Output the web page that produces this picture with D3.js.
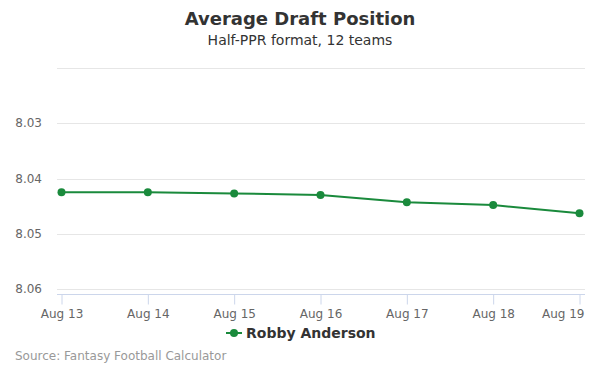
<!DOCTYPE html>
<html>
<head>
<meta charset="utf-8">
<script src="https://cdn.jsdelivr.net/npm/d3@7"></script>
<style>
  body { margin: 0; background: #fff; }
  svg { font-family: "DejaVu Sans", sans-serif; }
</style>
</head>
<body>
<svg id="chart" width="600" height="375"></svg>
<script>
var dates = ["2019-08-13", "2019-08-14", "2019-08-15", "2019-08-16", "2019-08-17", "2019-08-18", "2019-08-19"];
var adp = [8.0425, 8.0425, 8.0427, 8.0430, 8.0443, 8.0448, 8.0463];
var yTicks = [8.02, 8.03, 8.04, 8.05, 8.06];
var playerName = "Robby Anderson";

var parse = d3.timeParse("%Y-%m-%d");
var data = dates.map(function(d, i) { return { x: parse(d), y: adp[i] }; });

var svg = d3.select("#chart");
var plotLeft = 57, plotRight = 585, plotTop = 68, plotBottom = 294;
var green = "#1a8a3c";

var xScale = d3.scaleTime()
    .domain(d3.extent(data, function(d) { return d.x; }))
    .range([61.5, 579.5]);

var yScale = d3.scaleLinear()
    .domain([8.02, 8.0609])
    .range([plotTop, plotBottom]);

// grid
svg.append("g")
    .selectAll("line")
    .data(yTicks)
    .enter()
    .append("line")
    .attr("x1", plotLeft)
    .attr("x2", plotRight)
    .attr("y1", function(d) { return Math.round(yScale(d)) + 0.5; })
    .attr("y2", function(d) { return Math.round(yScale(d)) + 0.5; })
    .attr("stroke", "#e6e6e6");

// y labels (first one hidden like the original)
svg.append("g")
    .selectAll("text")
    .data(yTicks.slice(1))
    .enter()
    .append("text")
    .attr("x", 42)
    .attr("y", function(d) { return yScale(d) + 4; })
    .attr("text-anchor", "end")
    .attr("font-size", 12)
    .attr("fill", "#666")
    .text(function(d) { return d3.format(".2f")(d); });

// x axis
var xAxis = d3.axisBottom(xScale)
    .tickValues(data.map(function(d) { return d.x; }))
    .tickFormat(d3.timeFormat("Aug %d"))
    .tickSize(10)
    .tickSizeOuter(0);

var gx = svg.append("g")
    .attr("transform", "translate(0," + (plotBottom + 0.5) + ")")
    .call(xAxis);
gx.select(".domain").remove();
gx.insert("line", ":first-child")
    .attr("x1", plotLeft).attr("x2", plotRight)
    .attr("stroke", "#ccd6eb");
gx.selectAll(".tick line").attr("stroke", "#ccd6eb");
gx.selectAll(".tick text")
    .attr("y", 15)
    .attr("font-family", "DejaVu Sans, sans-serif")
    .attr("font-size", 12)
    .attr("fill", "#666");
// keep the last label inside the plot, as the original does
var lastX = xScale(data[data.length - 1].x);
gx.selectAll(".tick text")
    .filter(function(d, i, nodes) { return i === nodes.length - 1; })
    .attr("text-anchor", "end")
    .attr("x", plotRight - lastX - 1);

// line
var line = d3.line()
    .x(function(d) { return xScale(d.x); })
    .y(function(d) { return yScale(d.y); });

svg.append("path")
    .datum(data)
    .attr("fill", "none")
    .attr("stroke", green)
    .attr("stroke-width", 2)
    .attr("d", line);

svg.selectAll("circle.pt")
    .data(data)
    .enter()
    .append("circle")
    .attr("class", "pt")
    .attr("cx", function(d) { return xScale(d.x); })
    .attr("cy", function(d) { return yScale(d.y); })
    .attr("r", 4)
    .attr("fill", green);

// titles
svg.append("text")
    .attr("x", 300).attr("y", 25)
    .attr("text-anchor", "middle")
    .attr("font-size", 18)
    .attr("font-weight", "bold")
    .attr("fill", "#333")
    .text("Average Draft Position");

svg.append("text")
    .attr("x", 300).attr("y", 45)
    .attr("text-anchor", "middle")
    .attr("font-size", 14)
    .attr("fill", "#333")
    .text("Half-PPR format, 12 teams");

// legend
var legend = svg.append("g").attr("transform", "translate(226, 333)");
legend.append("line")
    .attr("x1", 0).attr("x2", 16)
    .attr("stroke", green).attr("stroke-width", 2);
legend.append("circle")
    .attr("cx", 8).attr("cy", 0).attr("r", 4)
    .attr("fill", green);
legend.append("text")
    .attr("x", 20).attr("y", 5)
    .attr("font-size", 14)
    .attr("font-weight", "bold")
    .attr("fill", "#333")
    .text(playerName);

// source
svg.append("text")
    .attr("x", 15).attr("y", 360)
    .attr("font-size", 12)
    .attr("fill", "#999")
    .text("Source: Fantasy Football Calculator");
</script>
</body>
</html>
